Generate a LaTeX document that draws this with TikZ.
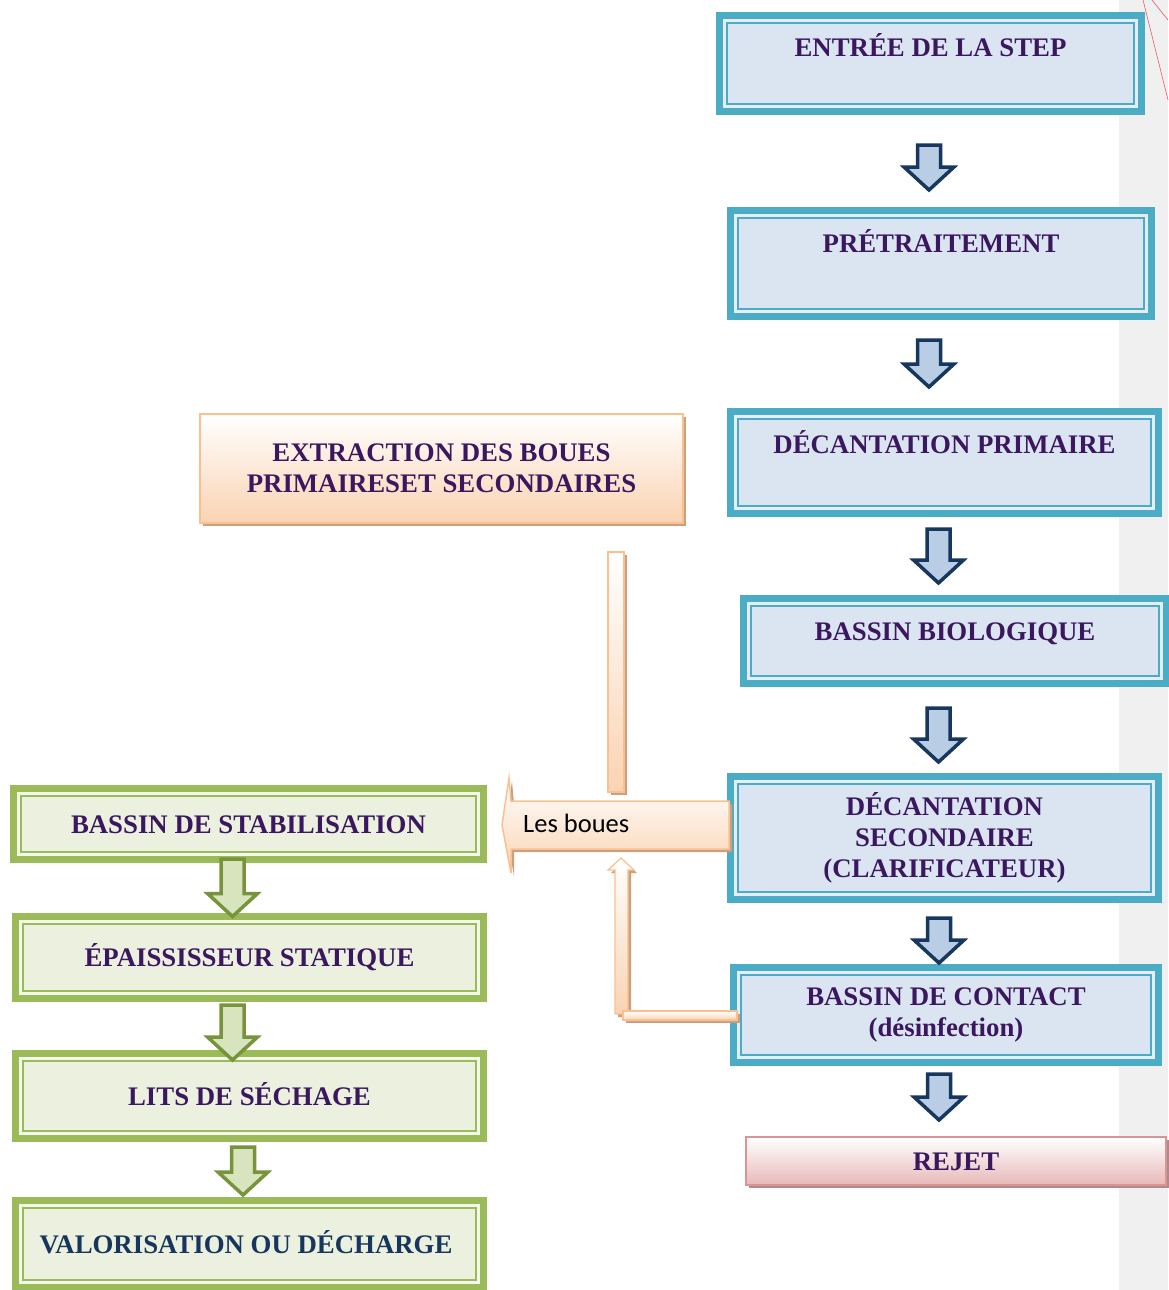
\documentclass[tikz,border=0pt]{standalone}
\usepackage{fontspec}
\setmainfont{Liberation Serif}
\newfontfamily\calibri{Carlito}
\usepackage{tikz}
\usetikzlibrary{calc}
\usetikzlibrary{shadows}

\definecolor{tealc}{HTML}{4BACC6}
\definecolor{boxblue}{HTML}{DBE5F1}
\definecolor{gapblue}{HTML}{E6EDF5}
\definecolor{arrblue}{HTML}{B9CDE5}
\definecolor{arrnavy}{HTML}{17375E}
\definecolor{grnborder}{HTML}{9BBB59}
\definecolor{grnfill}{HTML}{EBF1DE}
\definecolor{grngap}{HTML}{F3F7EC}
\definecolor{grnarr}{HTML}{D7E4BD}
\definecolor{grnarrdark}{HTML}{77933C}
\definecolor{orborder}{HTML}{FAC090}
\definecolor{orfill}{HTML}{FAD3B2}
\definecolor{orshadow}{HTML}{CDA07D}
\definecolor{pkborder}{HTML}{D99594}
\definecolor{pkfill}{HTML}{E6B9B8}
\definecolor{pkshadow}{HTML}{B08A89}
\definecolor{txtpurple}{HTML}{3B175F}
\definecolor{txtnavy}{HTML}{17365D}
\definecolor{stripgray}{HTML}{F0F0F0}
\definecolor{redline}{HTML}{E86060}

% block arrow pointing down, from top point to tip
\newcommand{\shafthalf}{11.5pt}
\newcommand{\headhalf}{25pt}
\newcommand{\headlen}{23pt}
\newcommand{\blockarrow}[3][bluearrow]{%
  \draw[#1] let \p1=(#2), \p2=(#3) in
    (\x1-\shafthalf,\y1) -- (\x1+\shafthalf,\y1) -- (\x1+\shafthalf,\y2+\headlen)
    -- (\x1+\headhalf,\y2+\headlen) -- (\x1,\y2) -- (\x1-\headhalf,\y2+\headlen)
    -- (\x1-\shafthalf,\y2+\headlen) -- cycle;}

\begin{document}
\begin{tikzpicture}[
        x = 1pt, y = -1pt,
        steptext/.style = {
                font = \fontsize{26.8}{31}\selectfont\bfseries,
                text = txtpurple,
                align = center
            },
        captext/.style = {
                steptext,
                text height = 18pt,
                text depth = 0pt
            },
        framebox/.style n args = {3}{
                draw = #1,
                line width = 7pt,
                fill = #3,
                inner sep = 0pt,
                outer sep = 0pt,
                path picture = {
                        \draw[#1, line width = 2pt, fill = #2]
                            ([shift={(7.5pt,-7.5pt)}]path picture bounding box.north west)
                            rectangle
                            ([shift={(-7.5pt,7.5pt)}]path picture bounding box.south east);
                    }
            },
        bluebox/.style = {framebox = {tealc}{boxblue}{gapblue}},
        greenbox/.style = {framebox = {grnborder}{grnfill}{grngap}},
        orangebox/.style = {
                draw = orborder,
                line width = 1.5pt,
                top color = white,
                bottom color = orfill,
                inner sep = 0pt,
                outer sep = 0pt,
                drop shadow = {shadow xshift = 3pt, shadow yshift = -3pt,
                        fill = orshadow, opacity = 1}
            },
        orangebar/.style = {orangebox, line width = 1.2pt},
        pinkbox/.style = {
                draw = pkborder,
                line width = 1.5pt,
                top color = white,
                bottom color = pkfill,
                inner sep = 0pt,
                outer sep = 0pt,
                drop shadow = {shadow xshift = 3pt, shadow yshift = -3pt,
                        fill = pkshadow, opacity = 1}
            },
        bluearrow/.style = {draw = arrnavy, fill = arrblue, line width = 3.5pt, line join = miter},
        greenarrow/.style = {draw = grnarrdark, fill = grnarr, line width = 3.5pt, line join = miter}
    ]
    \useasboundingbox (0,0) rectangle (1168,1290);
    \fill[stripgray] (1119,0) rectangle (1168,1290);
    \draw[redline, line width = 0.6pt] (1143,0) -- (1168,100) (1152,0) -- (1168,20);

    % water line
    \node[bluebox, minimum width = 422, minimum height = 96,
        label = {[captext, yshift = 15.5]center:{ENTRÉE DE LA STEP}}] (entree) at (930.5,63.5) {};
    \node[bluebox, minimum width = 421, minimum height = 106,
        label = {[captext, yshift = 20.5]center:{PRÉTRAITEMENT}}] (pretrait) at (941,263.5) {};
    \node[bluebox, minimum width = 428, minimum height = 102,
        label = {[captext, yshift = 18.5]center:{DÉCANTATION PRIMAIRE}}] (decprim) at (944.5,462.5) {};
    \node[bluebox, minimum width = 423, minimum height = 85,
        label = {[captext, yshift = 10]center:{BASSIN BIOLOGIQUE}}] (biolog) at (955,641) {};
    \node[bluebox, steptext, minimum width = 428, minimum height = 123] (decsec) at (944.5,838)
        {DÉCANTATION\\SECONDAIRE\\(CLARIFICATEUR)};
    \node[bluebox, steptext, minimum width = 425, minimum height = 95] (contact) at (946,1015)
        {BASSIN DE CONTACT\\(désinfection)};
    \node[pinkbox, captext, minimum width = 420, minimum height = 48] (rejet) at (956,1161) {REJET};

    % sludge line
    \node[orangebox, steptext, minimum width = 483, minimum height = 109] (extract) at (441.5,468.5)
        {EXTRACTION DES BOUES\\PRIMAIRESET SECONDAIRES};
    \node[greenbox, captext, minimum width = 470, minimum height = 71] (stab) at (248.5,824)
        {BASSIN DE STABILISATION};
    \node[greenbox, captext, minimum width = 468, minimum height = 82] (epais) at (249.5,957.5)
        {ÉPAISSISSEUR STATIQUE};
    \node[greenbox, captext, minimum width = 468, minimum height = 85] (lits) at (249.5,1096)
        {LITS DE SÉCHAGE};
    \node[greenbox, minimum width = 468, minimum height = 87,
        label = {[captext, text = txtnavy, xshift = -3.5]center:{VALORISATION OU DÉCHARGE}}] (valor) at (249.5,1244) {};

    \blockarrow{$(entree.south)+(-1.5,33.5)$}{$(pretrait.north)+(0,-20.5)$}
    \blockarrow{$(pretrait.south)+(-12,23.5)$}{$(decprim.north)+(0,-24.5)$}
    \blockarrow{$(decprim.south)+(-6,15.5)$}{$(biolog.north)+(0,-15.5)$}
    \blockarrow{$(biolog.south)+(-16.5,24.5)$}{$(decsec.north)+(0,-14.5)$}
    \blockarrow{$(decsec.south)+(-5.5,18.5)$}{$(contact.north)+(0,-4.5)$}
    \blockarrow{$(contact.south)+(-7,11.5)$}{$(rejet.north)+(0,-17)$}

    \blockarrow[greenarrow]{$(stab.south)+(-16,-0.5)$}{$(epais.north)+(0,0)$}
    \blockarrow[greenarrow]{$(epais.south)+(-17,6.5)$}{$(lits.north)+(0,6.5)$}
    \blockarrow[greenarrow]{$(lits.south)+(-6.5,8.5)$}{$(valor.north)+(0,-5.5)$}

    % les boues
    \draw[orangebar] ($(extract.south)+(166.5,29)$) rectangle ++(16,240);
    \draw[orangebox] ($(decsec.west)+(-1.5,-37)$) -- (511,801) -- (509,778) -- (502,825)
        -- (511,873) -- (511,849) -- ($(decsec.west)+(-1.5,11)$) -- cycle;
    \node[font = \calibri\fontsize{26.5}{31}\selectfont, anchor = west, inner sep = 0pt] (boues) at (523,823) {Les boues};
    \coordinate (bouesfoot) at (621,849);
    \draw[orangebar] (615,1014) -- (615,870) -- (608,870) -- ($(bouesfoot)+(0,9)$)
        -- (634,870) -- (628,870) -- (628,1014) -- cycle;
    \draw[orangebar] ($(contact.west)+(3.5,-4)$) rectangle (623,1020);
\end{tikzpicture}
\end{document}
